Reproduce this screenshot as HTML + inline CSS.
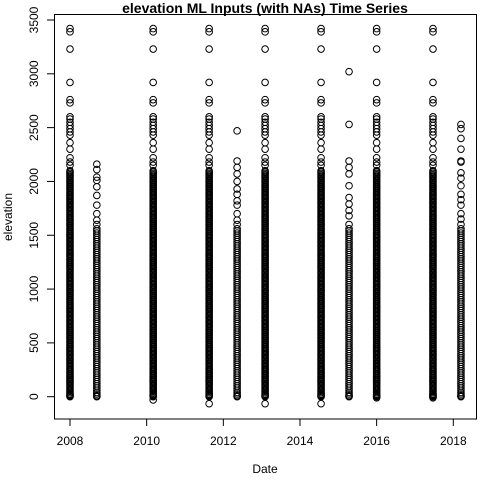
<!DOCTYPE html>
<html><head><meta charset="utf-8"><style>
html,body{margin:0;padding:0;background:#fff}
svg{display:block;font-family:"Liberation Sans",Arial,sans-serif}
</style></head><body>
<svg id="chart" width="480" height="480" viewBox="0 0 480 480">
<rect width="480" height="480" fill="#fff"/>
<text x="265" y="13" text-anchor="middle" font-size="14" font-weight="bold">elevation ML Inputs (with NAs) Time Series</text>
<rect x="54.5" y="14.5" width="422" height="404.5" fill="none" stroke="#000" stroke-width="1"/>
<g id="marks"></g>
<g id="xaxis"></g>
<g id="yaxis"></g>
<text x="265" y="473" text-anchor="middle" font-size="12">Date</text>
<text transform="translate(12,217) rotate(-90)" text-anchor="middle" font-size="12">elevation</text>
</svg>
<script>
const xTicks=[2008,2010,2012,2014,2016,2018];
const yTicks=[0,500,1000,1500,2000,2500,3000,3500];
const sampleDates=[2008.0,2008.7,2010.17,2011.63,2012.36,2013.09,2014.55,2015.28,2016.0,2017.47,2018.2];
const fullTop=[3420,3390,3230,2920,2760,2730,2600,2580,2550,2520,2490,2460,2430,2360,2300,2220,2180,2150];
const fullDense=[2100,2075,2050,2025,2000,1975,1950,1925,1900,1875,1850,1825,1800,1775,1750,1725,1700,1675,1650,1625,1600,1575,1550,1525,1500,1475,1450,1425,1400,1375,1350,1325,1300,1275,1250,1225,1200,1175,1150,1125,1100,1075,1050,1025,1000,975,950,925,900,875,850,825,800,775,750,725,700,675,650,625,600,575,550,525,500,475,450,425,400,375,350,325,300,275,250,225,200,175,150,125,100,75,50,25,10,0];
const fullDense2=[2088,2062,2038,2012,1988,1962,1938,1912,1888,1862,1838,1812,1788,1762,1738,1712,1688,1662,1638,1612,1588,1562,1538,1512,1488,1462,1438,1412,1388,1362,1338,1312,1288,1262,1238,1212,1188,1162,1138,1112,1088,1062,1038,1012,988,962,938,912,888,862,838,812,788,762,738,712,688,662,638,612,588,562,538,512,488,462,438,412,388,362,338,312,288,262,238,212,188,162,138,112,88,62,38,18,5];
const partDense=[1560,1520,1480,1440,1400,1360,1320,1280,1240,1200,1160,1120,1080,1040,1000,960,920,880,840,800,760,720,680,640,600,560,520,480,440,400,360,320,280,240,200,160,120,80,40,10,0];
const partDense2=[1540,1500,1460,1420,1380,1340,1300,1260,1220,1180,1140,1100,1060,1020,980,940,900,860,820,780,740,700,660,620,580,540,500,460,420,380,340,300,260,220,180,140,100,60,25,5];
const col2008b=[2160,2110,2040,2010,1950,1870,1780,1700,1640,1600];
const col2012b=[2470,2190,2130,2070,2000,1930,1880,1820,1780,1700,1640,1600];
const col2015b=[3020,2530,2190,2130,2070,1960,1850,1790,1730,1680,1600];
const col2018b=[2530,2490,2400,2300,2190,2180,2080,2030,1960,1880,1830,1780,1700,1650,1600];
const seriesValues=[
 fullTop.concat(fullDense,fullDense2),
 col2008b.concat(partDense,partDense2),
 fullTop.concat(fullDense,fullDense2,[-30]),
 fullTop.concat(fullDense,fullDense2,[-65]),
 col2012b.concat(partDense,partDense2),
 fullTop.concat(fullDense,fullDense2,[-65]),
 fullTop.concat(fullDense,fullDense2,[-65]),
 col2015b.concat(partDense,partDense2),
 fullTop.concat(fullDense,fullDense2,[-10]),
 fullTop.concat(fullDense,fullDense2,[-10]),
 col2018b.concat(partDense,partDense2)
];
const NS='http://www.w3.org/2000/svg';
function xs(d){return 70+(d-2008)*38.33;}
function ys(v){return 396.7-v*0.10763;}
const marks=document.getElementById('marks');
seriesValues.forEach((vals,i)=>{
  vals.forEach(v=>{
    const c=document.createElementNS(NS,'circle');
    c.setAttribute('cx',xs(sampleDates[i]));
    c.setAttribute('cy',ys(v));
    c.setAttribute('r',3.3);
    c.setAttribute('fill','none');
    c.setAttribute('stroke','#000');
    c.setAttribute('stroke-width','1');
    
    
    marks.appendChild(c);
  });
});
const xa=document.getElementById('xaxis');
xTicks.forEach(t=>{
  const x=xs(t);
  const l=document.createElementNS(NS,'line');
  l.setAttribute('x1',x);l.setAttribute('x2',x);l.setAttribute('y1',419);l.setAttribute('y2',426);
  l.setAttribute('stroke','#000');
  
  
  xa.appendChild(l);
  const tx=document.createElementNS(NS,'text');
  tx.setAttribute('x',x);tx.setAttribute('y',445);tx.setAttribute('text-anchor','middle');tx.setAttribute('font-size','12');
  tx.textContent=t;
  
  
  xa.appendChild(tx);
});
const ya=document.getElementById('yaxis');
yTicks.forEach(t=>{
  const y=ys(t);
  const l=document.createElementNS(NS,'line');
  l.setAttribute('x1',47);l.setAttribute('x2',54.5);l.setAttribute('y1',y);l.setAttribute('y2',y);
  l.setAttribute('stroke','#000');
  
  
  ya.appendChild(l);
  const tx=document.createElementNS(NS,'text');
  tx.setAttribute('transform','translate(38,'+y+') rotate(-90)');
  tx.setAttribute('text-anchor','middle');tx.setAttribute('font-size','12');
  tx.textContent=t;
  
  
  ya.appendChild(tx);
});
</script>
</body></html>
